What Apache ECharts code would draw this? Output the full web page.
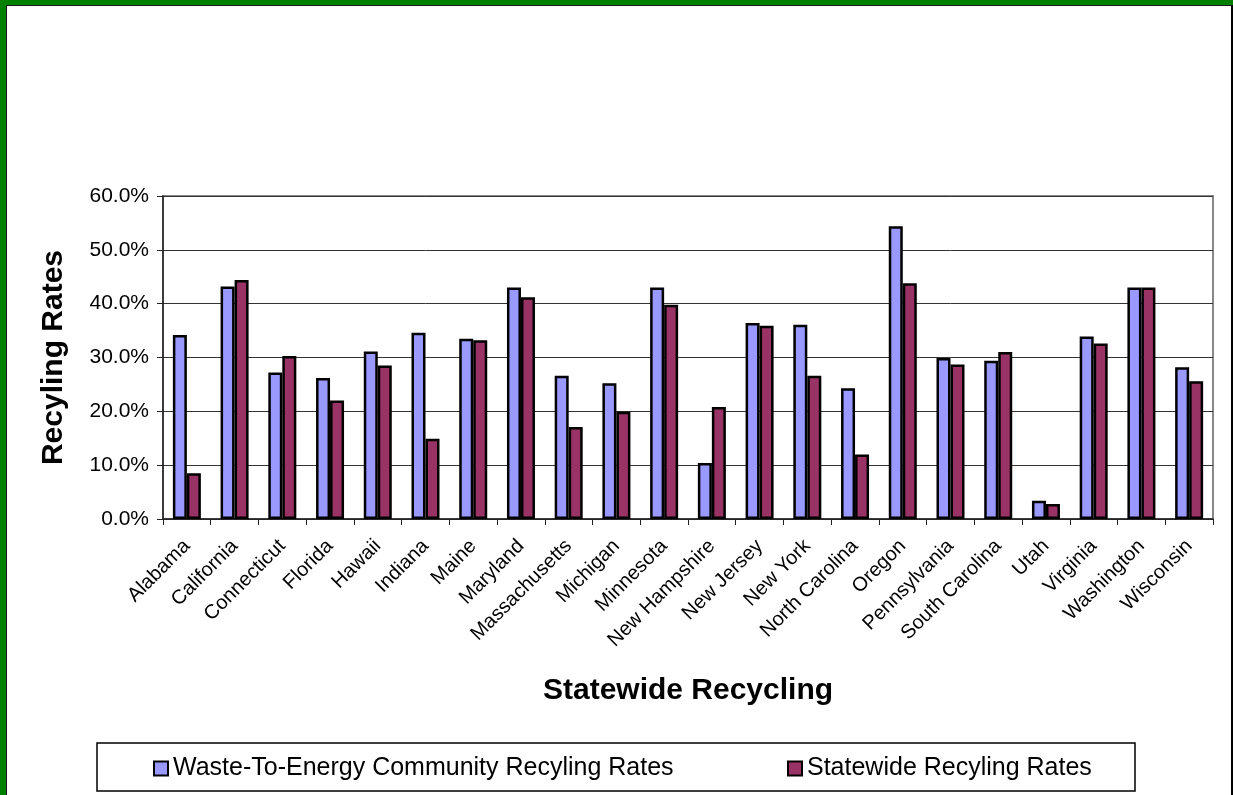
<!DOCTYPE html>
<html>
<head>
<meta charset="utf-8">
<script src="https://cdn.jsdelivr.net/npm/echarts@6/dist/echarts.min.js"></script>
<style>
  html, body { margin: 0; padding: 0; background: #fff; }
  #chart { position: absolute; left: 0; top: 0; width: 1233px; height: 795px; }
  .frame { position: absolute; pointer-events: none; }
</style>
</head>
<body>
<div id="chart"></div>
<div class="frame" style="left:0;top:0;width:6px;height:795px;background:#008000;"></div>
<div class="frame" style="left:0;top:0;width:1233px;height:5px;background:#008000;"></div>
<div class="frame" style="left:6px;top:5px;width:1px;height:790px;background:#1a1a1a;"></div>
<div class="frame" style="left:6px;top:5px;width:1227px;height:1px;background:#1a1a1a;"></div>
<div class="frame" style="left:1231px;top:5px;width:2px;height:790px;background:#000;"></div>
<script>
const categories = ['Alabama','California','Connecticut','Florida','Hawaii','Indiana','Maine','Maryland','Massachusetts','Michigan','Minnesota','New Hampshire','New Jersey','New York','North Carolina','Oregon','Pennsylvania','South Carolina','Utah','Virginia','Washington','Wisconsin'];
const wteRates = [34.2, 43.2, 27.2, 26.2, 31.1, 34.6, 33.5, 43.0, 26.6, 25.2, 43.0, 10.4, 36.4, 36.1, 24.3, 54.4, 29.9, 29.4, 3.4, 33.9, 43.0, 28.2];
const statewideRates = [8.5, 44.4, 30.3, 22.0, 28.5, 14.9, 33.2, 41.2, 17.1, 19.9, 39.8, 20.8, 35.9, 26.6, 12.0, 43.8, 28.7, 31.0, 2.8, 32.6, 43.0, 25.6];
const seriesNames = ['Waste-To-Energy Community Recyling Rates', 'Statewide Recyling Rates'];
const yTicks = [0, 10, 20, 30, 40, 50, 60];

const font = 'Arial, "Liberation Sans", sans-serif';
const legendBase = {
  icon: 'rect', itemWidth: 14, itemHeight: 14, itemGap: 0, top: 751,
  textStyle: { fontFamily: font, fontSize: 25, color: '#000', padding: [0, 0, 0, 0] },
  itemStyle: { borderWidth: 2, borderColor: '#000' }
};
const chart = echarts.init(document.getElementById('chart'));
chart.setOption({
  animation: false,
  backgroundColor: '#ffffff',
  grid: { left: 163, right: 20, top: 196, bottom: 795 - 519, show: true, borderColor: '#888', borderWidth: 2, backgroundColor: 'transparent' },
  legend: [
    Object.assign({ data: [seriesNames[0]], left: 148 }, legendBase),
    Object.assign({ data: [seriesNames[1]], left: 782 }, legendBase)
  ],
  graphic: [
    { type: 'rect', shape: { x: 97, y: 743, width: 1038, height: 48 }, style: { fill: 'none', stroke: '#000', lineWidth: 1.5 }, z: -1 }
  ],
  xAxis: {
    type: 'category',
    data: categories,
    name: 'Statewide Recycling',
    nameLocation: 'middle',
    nameGap: 157,
    nameTextStyle: { fontFamily: font, fontSize: 30, fontWeight: 'bold', color: '#000' },
    axisLine: { lineStyle: { color: '#222', width: 1.5 } },
    axisTick: { show: true, length: 6, lineStyle: { color: '#222' } },
    axisLabel: { rotate: 45, interval: 0, fontFamily: font, fontSize: 20, color: '#000', margin: 24 }
  },
  yAxis: {
    type: 'value',
    min: 0, max: 60, interval: 10,
    name: 'Recyling Rates',
    nameLocation: 'middle',
    nameGap: 94,
    nameTextStyle: { fontFamily: font, fontSize: 30, fontWeight: 'bold', color: '#000' },
    axisLine: { show: true, lineStyle: { color: '#222', width: 1.5 } },
    axisTick: { show: true, length: 6, lineStyle: { color: '#222' } },
    axisLabel: { fontFamily: font, fontSize: 21, color: '#000', margin: 14,
      formatter: v => yTicks.includes(v) ? v.toFixed(1) + '%' : '' },
    splitLine: { show: true, lineStyle: { color: '#333', width: 1 } }
  },
  series: [
    { name: seriesNames[0], type: 'bar', data: wteRates, barWidth: 14, barGap: '0%',
      itemStyle: { color: '#9999FF', borderColor: '#000', borderWidth: 2.5 } },
    { name: seriesNames[1], type: 'bar', data: statewideRates, barWidth: 14, barGap: '0%',
      itemStyle: { color: '#993366', borderColor: '#000', borderWidth: 2.5 } }
  ]
});
</script>
</body>
</html>
